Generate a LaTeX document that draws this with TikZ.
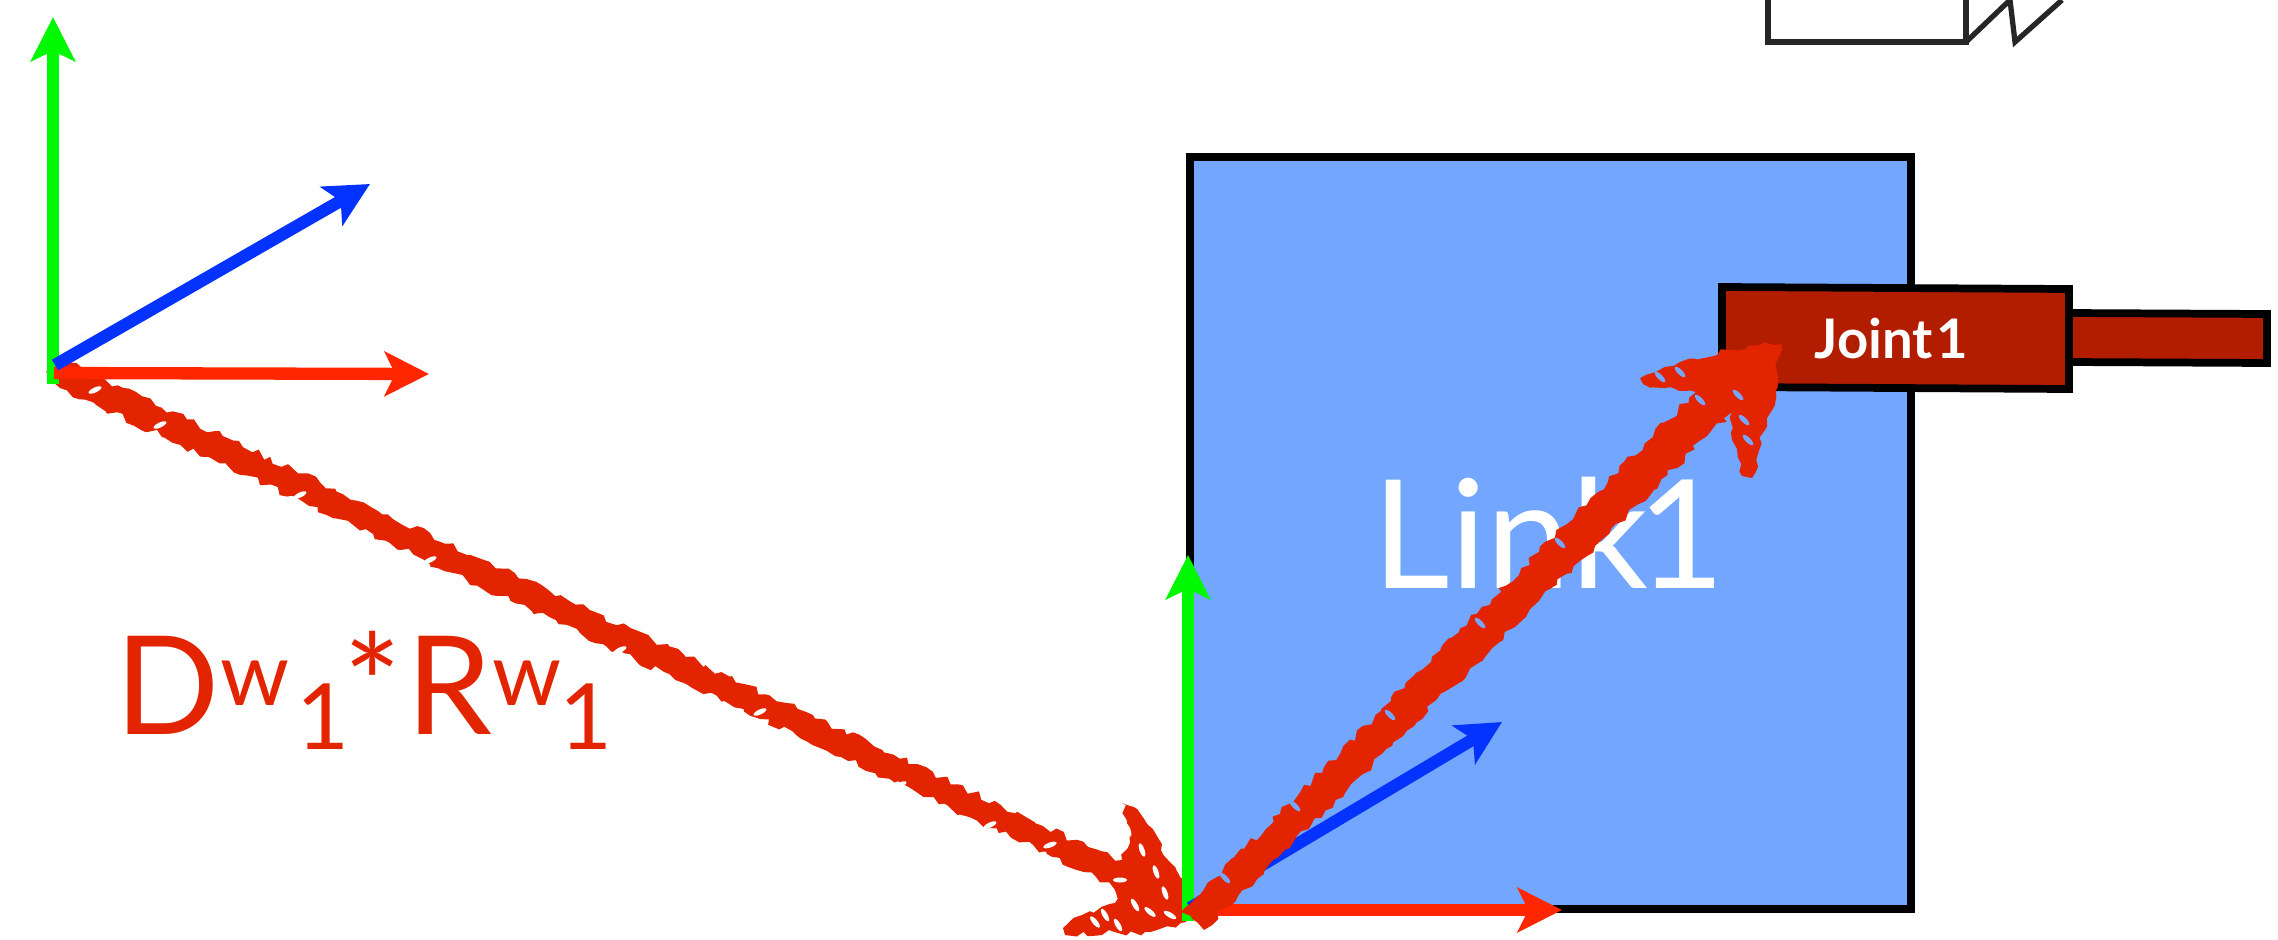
\documentclass[tikz,border=0pt]{standalone}
\usepackage{fontspec}
\setmainfont{Lato}
\usetikzlibrary{arrows.meta,decorations.pathmorphing}
\definecolor{linkblue}{HTML}{73A6FF}
\definecolor{jointred}{HTML}{B21D00}
\definecolor{roughred}{HTML}{E22500}
\definecolor{axisred}{HTML}{FF2600}
\definecolor{axisgreen}{HTML}{00F900}
\definecolor{axisblue}{HTML}{0433FF}
\tikzset{
  axis/.style={line width=3.5pt,-{Stealth[length=12.6pt,width=12.6pt,inset=3pt]}},
  rough/.style={fill=roughred,decorate,decoration={random steps,segment length=2pt,amplitude=1pt}},
  solidbox/.style={draw=black,line width=2.2pt,miter limit=10},
  sketch/.style={draw=black!85,line width=1.5pt}
}
\pgfmathsetseed{7}
\begin{document}
\begin{tikzpicture}[x=0.01cm,y=-0.01cm]
\useasboundingbox (0,0) rectangle (2278,939);
% named frame points
\coordinate (wo) at (54,373);
\coordinate (wg) at (53,17);
\coordinate (wgb) at (53,384);
\coordinate (wb) at (370,184);
\coordinate (wbb) at (55,365);
\coordinate (wr) at (429,374);
\coordinate (lg) at (1188,555);
\coordinate (lgb) at (1188,921);
\coordinate (lb) at (1502,722);
\coordinate (lbb) at (1190,908);
\coordinate (lr) at (1562,910);
\coordinate (lrb) at (1192,910);
% fragment of a sketch at the top right
\draw[sketch] (1768,0) -- (1768,42) -- (1966,42) -- (1966,0);
\draw[sketch] (1966,42) -- (2010,0) -- (2015,42) -- (2062,0);
% link and joint
\draw[solidbox,fill=linkblue] (1190,157) rectangle (1911,909);
\node[text=white,font=\fontsize{43pt}{43pt}\selectfont,anchor=base west,inner sep=0pt] (linklabel) at (1372,588) {Link\kern-3pt 1};
\draw[solidbox,fill=jointred] (2069,313) -- (2267,314) -- (2267,363) -- (2069,362) -- cycle;
\draw[solidbox,fill=jointred] (1722,287) -- (2069,289) -- (2069,389) -- (1722,387) -- cycle;
\node[text=white,font=\bfseries\fontsize{15.5pt}{15.5pt}\selectfont,anchor=base west,inner sep=0pt] (jointlabel) at (1814,358) {Joint\kern1pt 1};
% label
\node[text=roughred,font=\fontsize{39pt}{39pt}\selectfont,anchor=base west,inner sep=0pt] (dlabel) at (115,734)
 {D\raisebox{8pt}{\fontsize{25pt}{25pt}\selectfont w}\hspace{2pt}\raisebox{-4.5pt}{\fontsize{26pt}{26pt}\selectfont 1}\kern-1.5pt *\kern1.2pt R\raisebox{8pt}{\fontsize{25pt}{25pt}\selectfont w}\hspace{-0.5pt}\raisebox{-4.5pt}{\fontsize{26pt}{26pt}\selectfont 1}};
% first hand-drawn arrow
\path[rough] (46,372) -- (60,359) -- (1088,847) -- (1122,860) -- (1130,843) -- (1122,803) -- (1134,807) -- (1148,825) -- (1161,850) -- (1186,880) -- (1186,922) -- (1145,932) -- (1065,935) -- (1063,928) -- (1082,915) -- (1115,903) -- (1115,890) -- (1096,877) -- (60,388) -- cycle;
\foreach \fx/\fy/\fa in {1128/830/-70,1142/850/-70,1156/872/-70,1165/893/-70,1120/880/0,1135/905/-60,1150/912/-40,1095/922/-50,1105/915/-60,1118/925/-60,1170/915/-30,1050/845/20,1040/855/20,990/825/25,900/785/25,760/712/25,620/650/25,430/560/25,300/495/25,160/425/25,95/390/25}
  \fill[white,rotate around={\fa:(\fx,\fy)}] (\fx,\fy) ellipse (7 and 2.5);
% frame axes
\draw[axis,axisgreen] (wgb) -- (wg);
\draw[axis,axisred] (wo) -- (wr);
\draw[axis,axisblue] (wbb) -- (wb);
\draw[axis,axisgreen] (lgb) -- (lg);
\draw[axis,axisred] (lrb) -- (lr);
\draw[axis,axisblue] (lbb) -- (lb);
% second hand-drawn arrow
\path[rough] (1181,912) -- (1696,392) -- (1643,384) -- (1640,378) -- (1680,362) -- (1730,350) -- (1781,344) -- (1776,390) -- (1765,430) -- (1752,478) -- (1742,476) -- (1732,440) -- (1732,412) -- (1204,930) -- cycle;
\foreach \fx/\fy in {1660/377,1680/372,1738/395,1748/440,1744/420,1700/400,1560/543,1480/623,1390/715,1295/806,1225/878}
  \fill[linkblue,rotate around={-45:(\fx,\fy)}] (\fx,\fy) ellipse (7 and 2.5);
\end{tikzpicture}
\end{document}
